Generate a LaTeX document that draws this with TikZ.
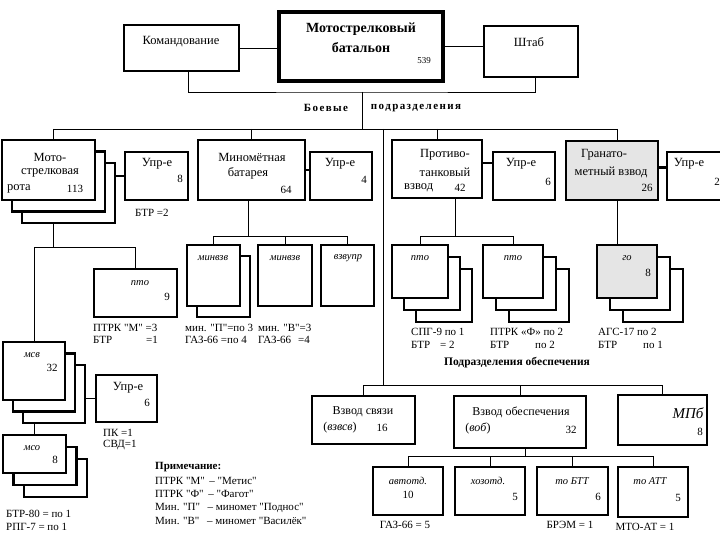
\documentclass[tikz,border=0pt]{standalone}
\usepackage{fontspec}
\setmainfont{Liberation Serif}[Ligatures=TeXOff]
\usetikzlibrary{calc}
\tikzset{
  box/.style={draw, line width=2.2pt, fill=white, inner sep=0pt, outer sep=0pt, anchor=north west},
  bigbox/.style={box, line width=3.2pt},
  gbox/.style={box, fill=black!10},
  ln/.style={line width=0.8pt},
  tk/.style={line width=2.8pt},
  lab/.style={inner sep=0pt, font=\fontsize{12.5}{14}\selectfont},
  num/.style={inner sep=0pt, font=\fontsize{11}{12}\selectfont},
  ital/.style={inner sep=0pt, font=\fontsize{10.5}{12}\selectfont\itshape},
  note/.style={inner sep=0pt, anchor=west, font=\fontsize{11}{12}\selectfont},
  hdr/.style={inner sep=0pt, font=\fontsize{11}{12}\selectfont\bfseries\addfontfeature{LetterSpace=13}},
}
\newcommand\mkbox[6]{\node[#6, minimum width={(#4)-(#2)}, minimum height={(#5)-(#3)}] (#1) at ({#2},{#3}) {};}
\newcommand\mkstack[8]{%
  \mkbox{#1c}{#2+2*#6}{#3+2*#7}{#4+2*#6}{#5+2*#7}{box}%
  \mkbox{#1b}{#2+#6}{#3+#7}{#4+#6}{#5+#7}{box}%
  \mkbox{#1}{#2}{#3}{#4}{#5}{#8}}
\begin{document}
\begin{tikzpicture}[x=1pt,y=-1pt]
\clip (0,0) rectangle (720,540);
\fill[white] (0,0) rectangle (720,540);
% ---------- boxes ----------
\mkbox{kom}{124}{25}{239}{71}{box}
\mkbox{bat}{279}{12}{443}{81}{bigbox}
\mkbox{shtab}{484}{26}{578}{77}{box}
\mkstack{rota}{2}{140}{95}{200}{10}{11.5}{box}
\mkbox{upr8}{125}{152}{188}{200}{box}
\mkbox{minbat}{198}{140}{305}{200}{box}
\mkbox{upr4}{310}{152}{372}{200}{box}
\mkbox{ptv}{392}{140}{482}{198}{box}
\mkbox{upr6}{493}{152}{555}{200}{box}
\mkbox{gran}{566}{141}{658}{200}{gbox}
\mkbox{upr2}{667}{152}{732}{200}{box}
\mkbox{pto9}{94}{269}{177}{317}{box}
\mkbox{mv1b}{197}{256}{250}{317}{box}
\mkbox{mv1}{187}{245}{240}{306}{box}
\mkbox{mv2}{258}{245}{312}{306}{box}
\mkbox{vzu}{321}{245}{374}{306}{box}
\mkstack{ptoa}{392}{245}{448}{298}{12}{12}{box}
\mkstack{ptob}{483}{245}{543}{298}{13}{12}{box}
\mkstack{go}{597}{245}{657}{298}{13}{12}{gbox}
\mkstack{msv}{3}{342}{65}{400}{10}{11.5}{box}
\mkbox{upr6b}{96}{375}{157}{422}{box}
\mkstack{mso}{3}{435}{66}{473}{10.5}{12}{box}
\mkbox{svz}{312}{396}{415}{444}{box}
\mkbox{obesp}{454}{396}{586}{448}{box}
\mkbox{mpb}{618}{395}{707}{445}{box}
\mkbox{avto}{373}{467}{443}{515}{box}
\mkbox{hoz}{455}{467}{525}{515}{box}
\mkbox{tobtt}{537}{467}{608}{515}{box}
\mkbox{toatg}{618}{467}{688}{517}{box}
% ---------- junction coordinates ----------
\coordinate (jtop) at (362,92);
\coordinate (busL) at (53,129);
\coordinate (busR) at (617,129);
\coordinate (jsup) at (383,385);
\coordinate (jr) at (53,247);
\coordinate (jm) at (248,236);
\coordinate (jp) at (455,236);
\coordinate (jo) at (525,456);
% ---------- connectors ----------
\draw[ln] (kom.east) -- (kom.east -| bat.west);
\draw[ln] (bat.east) -- (bat.east -| shtab.west);
\draw[ln] ([xshift=6.5pt]kom.south) |- (jtop) -| ([xshift=4pt]shtab.south);
\draw[ln] (jtop) -- (jtop |- busL);
\draw[ln] (busL) -- (busR);
\draw[ln] (busL) -- (busL |- rota.north);
\draw[ln] (minbat.north |- busL) -- (minbat.north);
\draw[ln] (ptv.north |- busL) -- (ptv.north);
\draw[ln] (busR) -- (busR |- gran.north);
\draw[ln] (jsup |- busL) -- (jsup);
\draw[tk] (upr8.west) -- (upr8.west -| rotac.east);
\draw[tk] (minbat.east) -- (minbat.east -| upr4.west);
\draw[tk] ([yshift=6pt]ptv.east) -- ([yshift=6pt]ptv.east -| upr6.west);
\draw[tk] ([yshift=3pt]gran.east) -- ([yshift=3pt]gran.east -| upr2.west);
% left column
\draw[ln] (jr |- rotac.south) -- (jr);
\draw[ln] (msv.north |- jr) -- (pto9.north |- jr);
\draw[ln] (msv.north |- jr) -- (msv.north);
\draw[ln] (pto9.north |- jr) -- (pto9.north);
\draw[ln] (upr6b.west) -- (upr6b.west -| msvc.east);
\draw[ln] (mso.north |- msvc.south) -- (mso.north);
% mortar battery
\draw[ln] (jm |- minbat.south) -- (jm);
\draw[ln] (mv1.north |- jm) -- (vzu.north |- jm);
\draw[ln] (mv1.north |- jm) -- (mv1.north);
\draw[ln] (mv2.north |- jm) -- (mv2.north);
\draw[ln] (vzu.north |- jm) -- (vzu.north);
% antitank
\draw[ln] (jp |- ptv.south) -- (jp);
\draw[ln] (ptoa.north |- jp) -- (ptob.north |- jp);
\draw[ln] (ptoa.north |- jp) -- (ptoa.north);
\draw[ln] (ptob.north |- jp) -- (ptob.north);
% grenade
\draw[ln] (busR |- gran.south) -- (busR |- go.north);
% support
\draw[ln] (svz.north |- jsup) -- (mpb.north |- jsup);
\draw[ln] (svz.north |- jsup) -- (svz.north);
\draw[ln] (obesp.north |- jsup) -- (obesp.north);
\draw[ln] (mpb.north |- jsup) -- (mpb.north);
\draw[ln] (jo |- obesp.south) -- (jo);
\draw[ln] (avto.north |- jo) -- (toatg.north |- jo);
\draw[ln] (avto.north |- jo) -- (avto.north);
\draw[ln] (hoz.north |- jo) -- (hoz.north);
\draw[ln] (tobtt.north |- jo) -- (tobtt.north);
\draw[ln] (toatg.north |- jo) -- (toatg.north);
% ---------- texts ----------
\node[lab] (komT) at (181,42) {Командование};
\node[lab, font=\fontsize{14}{16}\selectfont\bfseries] (batT1) at (361,29) {Мотострелковый};
\node[lab, font=\fontsize{14}{16}\selectfont\bfseries] (batT2) at (361,48) {батальон};
\node[num, font=\fontsize{9}{10}\selectfont] (batN) at (424,61) {539};
\node[lab] (shT) at (529,42) {Штаб};
\node[hdr] (hd1) at (326,108) {Боевые};
\node[hdr] (hd2) at (416,108) {подразделения};
% row 2
\node[lab] (rotaT1) at (50,157) {Мото-};
\node[lab] (rotaT2) at (50,173) {стрелковая};
\node[lab, anchor=west] (rotaT3) at (7,189) {рота};
\node[num] (rotaN) at (75,189) {113};
\node[lab] (upr8T) at (157,164) {Упр-е};
\node[num] (upr8N) at (180,179) {8};
\node[note] (upr8n) at (135,213) {БТР =2};
\node[lab] (minbatT1) at (252,157) {Миномётная};
\node[lab] (minbatT2) at (248,173) {батарея};
\node[num] (minbatN) at (286,190) {64};
\node[lab] (upr4T) at (340,164) {Упр-е};
\node[num] (upr4N) at (364,180) {4};
\node[lab] (ptvT1) at (445,155) {Противо-};
\node[lab] (ptvT2) at (445,172) {танковый};
\node[lab, anchor=west] (ptvT3) at (404,188) {взвод};
\node[num] (ptvN) at (460,188) {42};
\node[lab] (upr6T) at (521,164) {Упр-е};
\node[num] (upr6N) at (548,182) {6};
\node[lab] (granT1) at (604,155) {Гранато-};
\node[lab] (granT2) at (611,172) {метный взвод};
\node[num] (granN) at (647,188) {26};
\node[lab] (upr2T) at (689,164) {Упр-е};
\node[num] (upr2N) at (717,182) {2};
% row 3
\node[ital] (pto9T) at (140,283) {пто};
\node[num] (pto9N) at (167,297) {9};
\node[note] (pto9n1) at (93,328) {ПТРК "М" =3};
\node[note] (pto9n2) at (93,340) {БТР};
\node[note] (pto9n3) at (146,340) {=1};
\node[ital] (mv1T) at (213,258) {минвзв};
\node[ital] (mv2T) at (285,258) {минвзв};
\node[ital] (vzuT) at (348,258) {взвупр};
\node[note] (mv1n1) at (185,328) {мин. "П"=по 3};
\node[note] (mv1n2) at (185,340) {ГАЗ-66 =по 4};
\node[note] (mv2n1) at (258,328) {мин. "В"=3};
\node[note] (mv2n2) at (258,340) {ГАЗ-66};
\node[note] (mv2n3) at (298,340) {=4};
\node[ital] (ptoaT) at (420,258) {пто};
\node[ital] (ptobT) at (513,258) {пто};
\node[ital] (goT) at (627,258) {го};
\node[num] (goN) at (648,273) {8};
\node[note] (ptoan1) at (411,332) {СПГ-9 по 1};
\node[note] (ptoan2) at (411,345) {БТР};
\node[note] (ptoan3) at (440,345) {= 2};
\node[note] (ptobn1) at (490,332) {ПТРК «Ф» по 2};
\node[note] (ptobn2) at (490,345) {БТР};
\node[note] (ptobn3) at (535,345) {по 2};
\node[note] (gon1) at (598,332) {АГС-17 по 2};
\node[note] (gon2) at (598,345) {БТР};
\node[note] (gon3) at (643,345) {по 1};
\node[lab, font=\fontsize{11.5}{13}\selectfont\bfseries] (supT) at (517,363) {Подразделения обеспечения};
% row 4 right
\node[lab, font=\fontsize{12}{14}\selectfont] (svzT1) at (363,412) {Взвод связи};
\node[lab, font=\fontsize{12}{14}\selectfont] (svzT2) at (340,428) {(\textit{взвсв})};
\node[num] (svzN) at (382,428) {16};
\node[lab, font=\fontsize{12}{14}\selectfont] (obespT1) at (521,412) {Взвод обеспечения};
\node[lab, font=\fontsize{12}{14}\selectfont] (obespT2) at (478,428) {(\textit{воб})};
\node[num] (obespN) at (571,430) {32};
\node[lab, font=\fontsize{15}{17}\selectfont\itshape] (mpbT) at (688,413) {МПб};
\node[num] (mpbN) at (700,432) {8};
\node[ital] (avtoT) at (408,481) {автотд.};
\node[num] (avtoN) at (408,495) {10};
\node[ital] (hozT) at (488,481) {хозотд.};
\node[num] (hozN) at (515,497) {5};
\node[ital] (tobttT) at (572,481) {то БТТ};
\node[num] (tobttN) at (598,497) {6};
\node[ital] (toatgT) at (650,481) {то АТТ};
\node[num] (toatgN) at (678,498) {5};
\node[num] (avton) at (405,525) {ГАЗ-66 = 5};
\node[num] (tobttn) at (570,525) {БРЭМ = 1};
\node[num] (toatgn) at (645,527) {МТО-АТ = 1};
% row 4 left
\node[ital] (msvT) at (32,355) {мсв};
\node[num] (msvN) at (52,368) {32};
\node[lab] (upr6bT) at (128,388) {Упр-е};
\node[num] (upr6bN) at (147,403) {6};
\node[note] (upr6bn1) at (103,433) {ПК =1};
\node[note] (upr6bn2) at (103,445) {СВД=1};
\node[ital] (msoT) at (32,448) {мсо};
\node[num] (msoN) at (55,460) {8};
\node[note] (mson1) at (6,514) {БТР-80 = по 1};
\node[note] (mson2) at (6,527) {РПГ-7 = по 1};
% note block
\node[note, font=\fontsize{11}{12}\selectfont\bfseries] (prim) at (155,467) {Примечание:};
\node[note] (prim1) at (155,480.5) {ПТРК "М" \,– "Метис"};
\node[note] (prim2) at (155,494) {ПТРК "Ф" \,– "Фагот"};
\node[note] (prim3) at (155,507.5) {Мин. "П" \;\,– миномет "Поднос"};
\node[note] (prim4) at (155,521) {Мин. "В" \;\,– миномет "Василёк"};
\end{tikzpicture}
\end{document}
